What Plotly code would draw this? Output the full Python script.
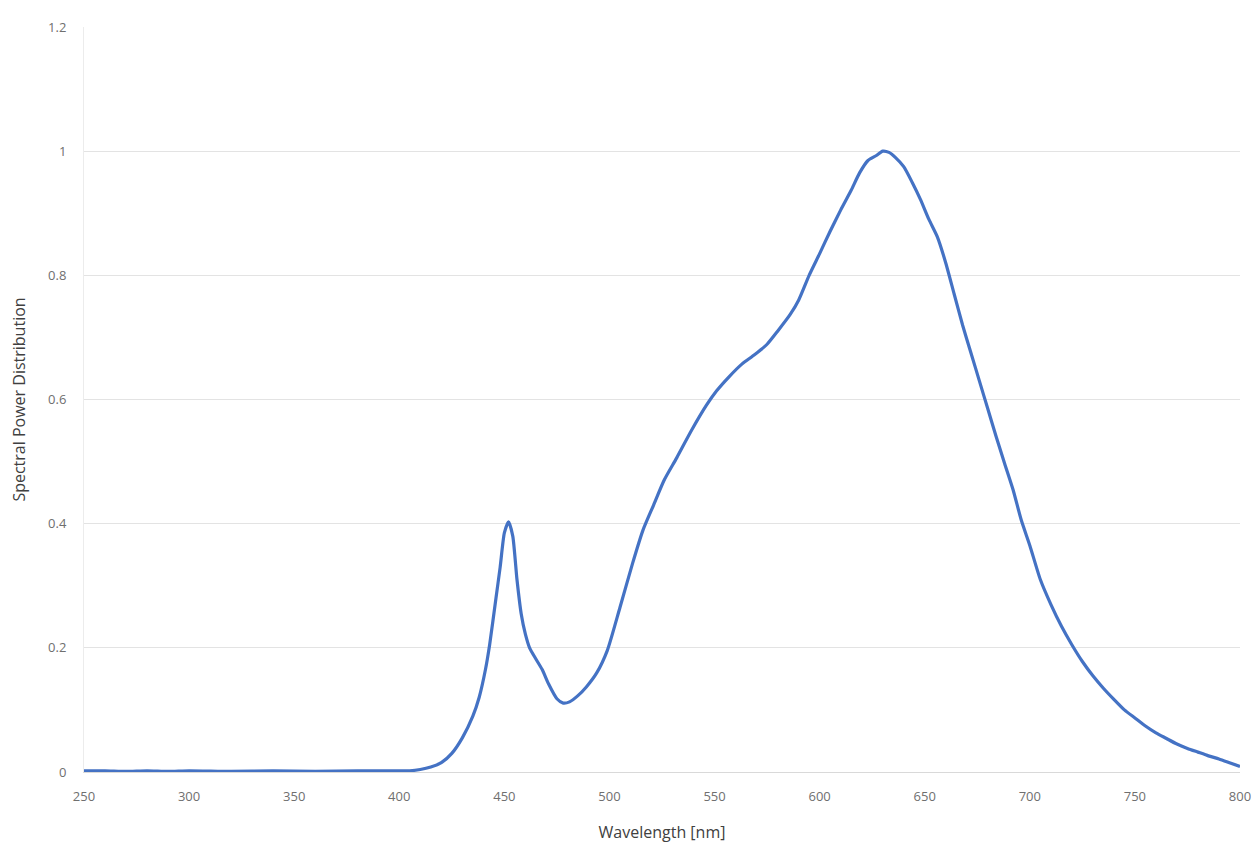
import plotly.graph_objects as go

wavelength = [250, 260, 270, 280, 290, 300, 320, 340, 360, 380, 400, 405, 410, 415, 420, 425, 430, 435, 438, 441,
              443, 446, 448, 450, 452, 454, 456, 458, 460, 462, 465, 468, 471, 475, 478, 481, 485, 489, 494, 499,
              505, 511, 516, 521, 526, 532, 539, 546, 551, 557, 563, 569, 575, 580, 586, 590, 595, 600, 605, 610,
              615, 619, 623, 627, 630, 633, 636, 640, 644, 648, 652, 656, 660, 664, 668, 672, 676, 680, 684, 688,
              692, 696, 700, 705, 710, 715, 720, 725, 730, 735, 740, 745, 750, 755, 760, 765, 770, 775, 780, 785,
              790, 795, 800]
spd = [0.002, 0.002, 0.001, 0.002, 0.001, 0.002, 0.001, 0.002, 0.001, 0.002, 0.002, 0.002, 0.004, 0.008, 0.015,
       0.03, 0.055, 0.09, 0.12, 0.165, 0.205, 0.28, 0.33, 0.385, 0.403, 0.38, 0.31, 0.255, 0.222, 0.2, 0.182, 0.165, 0.142,
       0.118, 0.111, 0.113, 0.123, 0.137, 0.16, 0.196, 0.265, 0.336, 0.39, 0.43, 0.47, 0.506, 0.55, 0.59, 0.614,
       0.637, 0.657, 0.672, 0.689, 0.71, 0.737, 0.76, 0.80, 0.835, 0.871, 0.905, 0.937, 0.965, 0.985, 0.993, 1.0,
       0.998, 0.99, 0.975, 0.95, 0.922, 0.89, 0.862, 0.82, 0.77, 0.72, 0.675, 0.63, 0.585, 0.54, 0.497, 0.455,
       0.405, 0.365, 0.31, 0.27, 0.235, 0.205, 0.178, 0.155, 0.135, 0.117, 0.1, 0.087, 0.074, 0.063, 0.054, 0.045,
       0.038, 0.032, 0.026, 0.021, 0.015, 0.009]

x_ticks = [250, 300, 350, 400, 450, 500, 550, 600, 650, 700, 750, 800]
y_ticks = [0, 0.2, 0.4, 0.6, 0.8, 1, 1.2]

fig = go.Figure()
fig.add_trace(go.Scatter(x=wavelength, y=spd, mode="lines",
                         line=dict(color="#4472C4", width=3.2, shape="spline", smoothing=0.6),
                         showlegend=False))

fig.update_layout(
    width=1252, height=840,
    margin=dict(l=76, r=20, t=19, b=76),
    paper_bgcolor="white", plot_bgcolor="white",
    font=dict(family="Open Sans, Liberation Sans, sans-serif", color="#595959", size=11),
)
fig.update_xaxes(range=[250, 800], tickvals=x_ticks, showgrid=False, zeroline=False,
                 showline=True, linecolor="#d9d9d9", linewidth=1, ticks="", automargin=False,
                 ticklabelstandoff=12,
                 title=dict(text="Wavelength [nm]", font=dict(size=16, color="#404040"), standoff=23),
                 tickfont=dict(size=13, color="#6f6f6f"))
fig.update_yaxes(range=[0, 1.2], tickvals=y_ticks, showgrid=True, gridcolor="#e3e3e3", gridwidth=1,
                 zeroline=False, showline=True, linecolor="#ececec", ticks="", automargin=False,
                 ticklabelstandoff=14,
                 title=dict(text="Spectral Power Distribution", font=dict(size=16, color="#404040"), standoff=18),
                 tickfont=dict(size=13, color="#6f6f6f"))

fig.write_html("out.html")
